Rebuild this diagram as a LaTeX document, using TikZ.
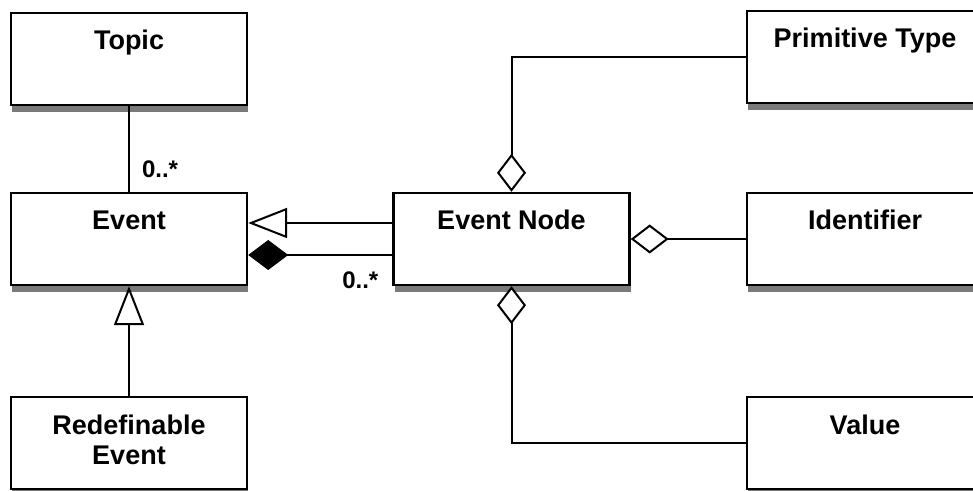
\documentclass[tikz,border=0pt]{standalone}
\usepackage{fontspec}
\setmainfont{Liberation Sans}
\usetikzlibrary{arrows.meta, calc, shadows}

\begin{document}
\begin{tikzpicture}[x=0.5pt, y=-0.5pt,
        umlclass/.style={draw, line width=1.2pt, fill=white, minimum width=118pt, minimum height=46pt,
            inner sep=0pt, text height=18.5pt, text depth=27.5pt, align=center,
            font=\fontsize{13.5}{15}\selectfont\bfseries,
            drop shadow={shadow xshift=0.5pt, shadow yshift=-3.5pt, fill=gray!70!black, opacity=0.8}},
        link/.style={line width=1pt},
        mult/.style={inner sep=0pt, font=\fontsize{12}{14}\selectfont\bfseries},
        inherit/.style={-{Triangle[open, length=19.5pt, width=15pt, fill=white]}},
        aggr/.style={-{Diamond[open, length=19pt, width=14.5pt, fill=white]}},
        comp/.style={-{Diamond[length=20pt, width=15pt]}}]
        \clip (0,0) rectangle (973,491);

        \node[umlclass] (topic) at (129,59) {Topic};
        \node[umlclass] (event) at (129,239) {Event};
        \node[umlclass, text height=33.5pt, text depth=12.5pt] (redef) at (129,443) {Redefinable\\Event};
        \node[umlclass] (evnode) at (511.5,239) {Event Node};
        \node[umlclass] (prim) at (865,57) {Primitive Type};
        \node[umlclass] (ident) at (865,239) {Identifier};
        \node[umlclass] (value) at (865,443) {Value};

        \draw[link] (topic.south) -- (event.north) node[mult, pos=0.83, anchor=base west, xshift=6pt] (m1) {0..*};
        \draw[link, inherit] (redef.north) -- (event.south);
        \draw[link, inherit] ($(evnode.west)+(0,-16)$) -- ($(event.east)+(0,-16)$);
        \draw[link, comp] ($(evnode.west)+(0,16)$) node[mult, anchor=base east, xshift=-6.5pt, yshift=-17pt] (m2) {0..*} -- ($(event.east)+(0,16)$);

        \draw[link, aggr] (prim.west) -| (evnode.north);
        \draw[link, aggr] (ident.west) -- (evnode.east);
        \draw[link, aggr] (value.west) -| (evnode.south);
    \end{tikzpicture}
\end{document}
